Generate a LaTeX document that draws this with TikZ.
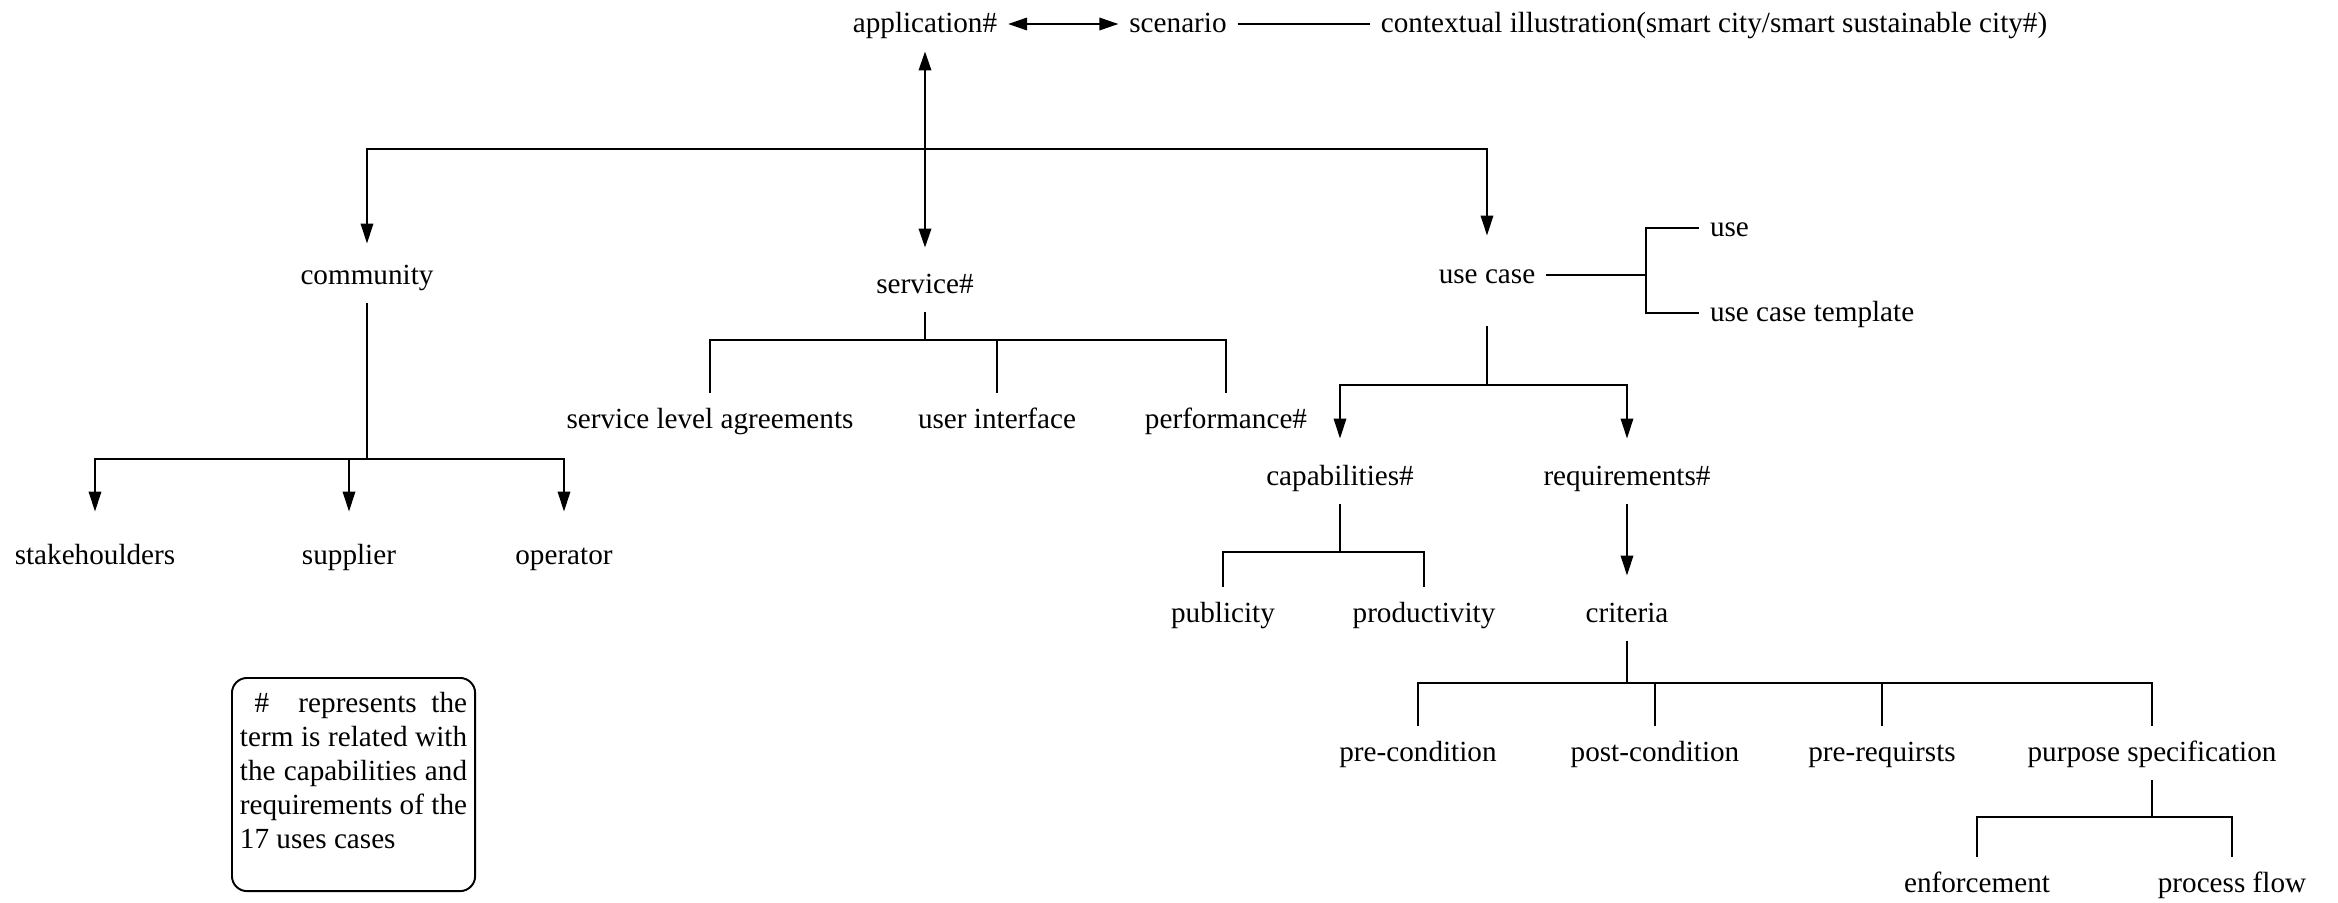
\documentclass[tikz,border=0pt]{standalone}
\usepackage{fontspec}
\setmainfont{Liberation Serif}
\usetikzlibrary{arrows.meta}
\begin{document}
\begin{tikzpicture}[x=0.01cm,y=-0.01cm,
  lbl/.style={inner sep=0pt, outer xsep=0.11cm, outer ysep=0.12cm,
    text height=0.68em, text depth=0.2em, font=\fontsize{8.3}{9.7}\selectfont},
  ln/.style={line width=0.55pt},
  arr/.style={ln, -{Triangle[length=0.2cm,width=0.125cm]}},
  darr/.style={ln, {Triangle[length=0.19cm,width=0.125cm]}-{Triangle[length=0.19cm,width=0.125cm]}},
  note/.style={draw, ln, rounded corners=0.15cm, anchor=north west,
    inner xsep=0.08cm, inner ysep=0.1cm,
    font=\fontsize{8.3}{9.7}\selectfont}]
\useasboundingbox (0,0) rectangle (2338,903);

% top row
\node[lbl] (app)  at (925,24)  {application\#};
\node[lbl] (scen) at (1178,24) {scenario};
\node[lbl] (ctx)  at (1714,24) {contextual illustration(smart city/smart sustainable city\#)};

% second level
\node[lbl] (comm) at (367,276) {community};
\node[lbl] (svc)  at (925,285) {service\#};
\node[lbl] (uc)   at (1487,275) {use case};
\node[lbl, anchor=west] (use) at (1699,228) {use};
\node[lbl, anchor=west] (uct) at (1699,313) {use case template};

% service branch
\node[lbl] (sla)  at (710,420)  {service level agreements};
\node[lbl] (ui)   at (997,420)  {user interface};
\node[lbl] (perf) at (1226,420) {performance\#};

% community branch
\node[lbl] (stake) at (95,556)  {stakehoulders};
\node[lbl] (supp)  at (349,556) {supplier};
\node[lbl] (oper)  at (564,556) {operator};

% use case branch
\node[lbl] (cap)  at (1340,477) {capabilities\#};
\node[lbl] (req)  at (1627,477) {requirements\#};
\node[lbl] (pub)  at (1223,614) {publicity};
\node[lbl] (prod) at (1424,614) {productivity};
\node[lbl] (crit) at (1627,614) {criteria};
\node[lbl] (pre)    at (1418,753) {pre-condition};
\node[lbl] (post)   at (1655,753) {post-condition};
\node[lbl] (prereq) at (1882,753) {pre-requirsts};
\node[lbl] (purp)   at (2152,753) {purpose specification};
\node[lbl] (enf)  at (1977,884) {enforcement};
\node[lbl] (proc) at (2232,884) {process flow};

% legend
\node[note] (legend) at (231,677)
  {\parbox[t][1.93cm][t]{2.27cm}{\vspace*{0.04cm}\ \#\ \ represents the\linebreak
   term is related with\linebreak the capabilities and\linebreak
   requirements of the\linebreak 17 uses cases}};

% junctions
\coordinate (topJ)  at (925,149);
\coordinate (svcJ)  at (925,340);
\coordinate (commJ) at (367,459);
\coordinate (ucR)   at (1646,275);
\coordinate (ucJ)   at (1487,385);
\coordinate (capJ)  at (1340,552);
\coordinate (critJ) at (1627,683);
\coordinate (purpJ) at (2152,817);

% connectors
\draw[darr] (app) -- (scen);
\draw[ln] (scen) -- (ctx);
\draw[darr, shorten >=0.1cm] (app) -- (svc);
\draw[arr, shorten >=0.05cm] (topJ) -| (comm);
\draw[arr, shorten >=0.12cm] (topJ) -| (uc);

\draw[ln] (svc) -- (svcJ);
\draw[ln] (svcJ) -| (sla);
\draw[ln] (svcJ) -| (perf);
\draw[ln] (svcJ -| ui) -- (ui);

\draw[ln] (comm) -- (commJ);
\draw[arr, shorten >=0.17cm] (commJ) -| (stake);
\draw[arr, shorten >=0.17cm] (commJ) -| (oper);
\draw[arr, shorten >=0.17cm] (commJ -| supp) -- (supp);

\draw[ln] (uc) -- (ucR);
\draw[ln] (ucR) |- (use);
\draw[ln] (ucR) |- (uct);

\draw[ln, shorten <=0.24cm] (uc) -- (ucJ);
\draw[arr, shorten >=0.11cm] (ucJ) -| (cap);
\draw[arr, shorten >=0.11cm] (ucJ) -| (req);

\draw[ln] (cap) -- (capJ);
\draw[ln] (capJ) -| (pub);
\draw[ln] (capJ) -| (prod);

\draw[arr, shorten >=0.11cm] (req) -- (crit);

\draw[ln] (crit) -- (critJ);
\draw[ln] (critJ) -| (pre);
\draw[ln] (critJ) -| (purp);
\draw[ln] (critJ -| post) -- (post);
\draw[ln] (critJ -| prereq) -- (prereq);

\draw[ln] (purp) -- (purpJ);
\draw[ln] (purpJ) -| (enf);
\draw[ln] (purpJ) -| (proc);
\end{tikzpicture}
\end{document}
